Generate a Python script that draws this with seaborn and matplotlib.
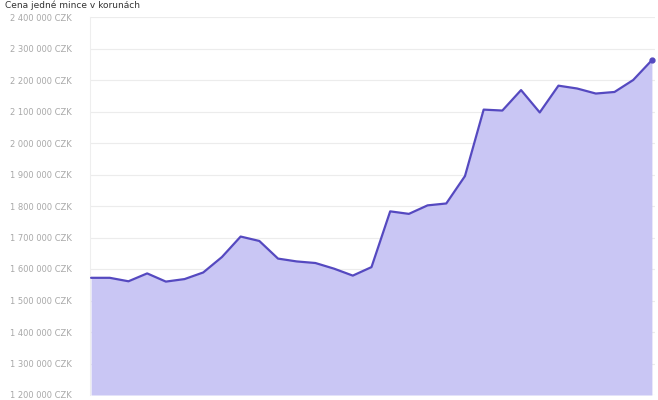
import numpy as np
import matplotlib.pyplot as plt
import matplotlib.ticker as mticker
import pandas as pd
import seaborn as sns

# Values (CZK)
period = list(range(31))
price = [1572000, 1572000, 1561000, 1586000, 1560000, 1568000, 1589000, 1638000,
         1703000, 1689000, 1633000, 1624000, 1619000, 1601000, 1579000, 1606000,
         1783000, 1775000, 1802000, 1808000, 1895000, 2106000, 2103000, 2168000,
         2097000, 2182000, 2173000, 2157000, 2162000, 2200000, 2263000]
title = "Cena jedné mince v korunách"

df = pd.DataFrame({"period": period, "price": price})

sns.set_theme(style="white")
line_col = "#5549c0"
fill_col = "#c9c6f4"

fig = plt.figure(figsize=(6.58, 4.0), dpi=100)
ax = fig.add_axes([0.137, 0.0125, 0.858, 0.945])

ax.fill_between(df["period"], df["price"], 1200000, color=fill_col, lw=0, zorder=1)
sns.lineplot(data=df, x="period", y="price", color=line_col, linewidth=1.6, ax=ax, zorder=3)
ax.plot(df["period"].iloc[-1], df["price"].iloc[-1], "o", color=line_col, ms=3.5, zorder=4)

ax.set_ylim(1200000, 2400000)
ax.set_xlim(-0.05, 30.15)
ax.yaxis.set_major_locator(mticker.MultipleLocator(100000))
ax.yaxis.set_major_formatter(mticker.FuncFormatter(
    lambda v, p: f"{int(v):,}".replace(",", " ") + " CZK"))
ax.set_xticks([])
ax.set_xlabel("")
ax.set_ylabel("")
ax.tick_params(axis="y", length=0, labelsize=6.0, labelcolor="#a8a8a8", pad=13)
ax.grid(axis="y", color="#ececec", linewidth=0.8)
ax.set_axisbelow(True)
for s in ["top", "right", "bottom"]:
    ax.spines[s].set_visible(False)
ax.spines["left"].set_color("#eeeeee")
ax.spines["left"].set_linewidth(0.8)

fig.text(0.008, 0.999, title, fontsize=6.5, color="#333333", va="top", ha="left")

fig.savefig("out.png", dpi=100)
